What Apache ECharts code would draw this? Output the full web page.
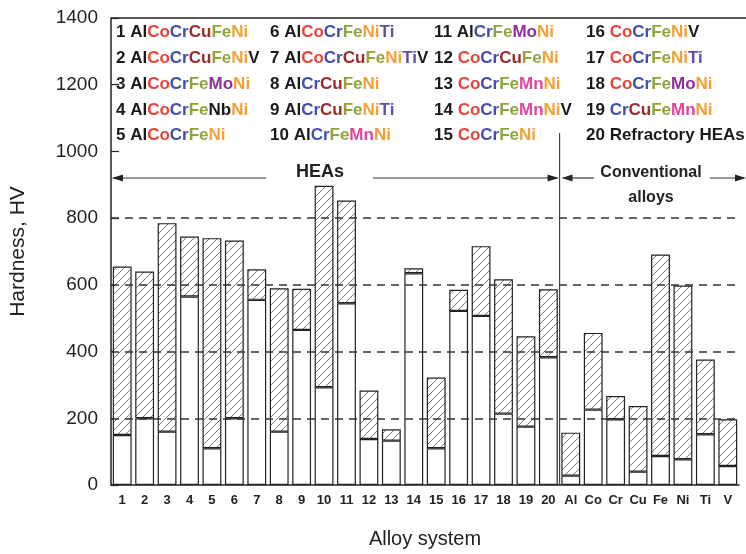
<!DOCTYPE html>
<html lang="en">
<head>
<meta charset="utf-8">
<title>Hardness of alloys</title>
<script src="https://cdn.jsdelivr.net/npm/echarts@6/dist/echarts.min.js"></script>
<style>
  html, body { margin: 0; padding: 0; background: #fff; }
  #chart { width: 746px; height: 554px; }
</style>
</head>
<body>
<div id="chart"></div>
<script>
// categories and hardness ranges (HV)
var categories = ['1','2','3','4','5','6','7','8','9','10','11','12','13','14','15','16','17','18','19','20',
                  'Al','Co','Cr','Cu','Fe','Ni','Ti','V'];
var minHV = [150, 200, 160, 565, 110, 200, 555, 160, 465, 293, 545, 138, 133, 635, 110, 522, 507, 214, 175, 383,
             28, 226, 197, 40, 87, 77, 152, 57];
var maxHV = [655, 640, 785, 745, 740, 733, 647, 590, 588, 897, 853, 283, 167, 650, 322, 585, 716, 617, 446, 587,
             157, 456, 267, 237, 691, 598, 376, 197];
var yTicks = [0, 200, 400, 600, 800, 1000, 1200, 1400];
var dashedLevels = [200, 400, 600, 800];

// legend of alloy compositions, element by element
var alloyNames = [
  ['Al','Co','Cr','Cu','Fe','Ni'],
  ['Al','Co','Cr','Cu','Fe','Ni','V'],
  ['Al','Co','Cr','Fe','Mo','Ni'],
  ['Al','Co','Cr','Fe','Nb','Ni'],
  ['Al','Co','Cr','Fe','Ni'],
  ['Al','Co','Cr','Fe','Ni','Ti'],
  ['Al','Co','Cr','Cu','Fe','Ni','Ti','V'],
  ['Al','Cr','Cu','Fe','Ni'],
  ['Al','Cr','Cu','Fe','Ni','Ti'],
  ['Al','Cr','Fe','Mn','Ni'],
  ['Al','Cr','Fe','Mo','Ni'],
  ['Co','Cr','Cu','Fe','Ni'],
  ['Co','Cr','Fe','Mn','Ni'],
  ['Co','Cr','Fe','Mn','Ni','V'],
  ['Co','Cr','Fe','Ni'],
  ['Co','Cr','Fe','Ni','V'],
  ['Co','Cr','Fe','Ni','Ti'],
  ['Co','Cr','Fe','Mo','Ni'],
  ['Cr','Cu','Fe','Mn','Ni'],
  ['Refractory HEAs']
];
var elementColor = {
  Al: '#1a1a1a', Co: '#e5453a', Cr: '#4150ad', Cu: '#9c2c2c', Fe: '#8fa53c', Ni: '#f4a036',
  Mo: '#8d2f9c', Nb: '#1a1a1a', Mn: '#e0449e', Ti: '#5b51a6', V: '#1a1a1a', num: '#1a1a1a'
};

var FONT = 'Liberation Sans';

// hatch pattern ////
function makeHatch() {
  var s = 8;
  var c = document.createElement('canvas');
  c.width = s; c.height = s;
  var g = c.getContext('2d');
  g.fillStyle = '#fff';
  g.fillRect(0, 0, s, s);
  g.strokeStyle = '#666';
  g.lineWidth = 0.9;
  g.beginPath();
  g.moveTo(0, s); g.lineTo(s, 0);
  g.moveTo(-1, 1); g.lineTo(1, -1);
  g.moveTo(s - 1, s + 1); g.lineTo(s + 1, s - 1);
  g.stroke();
  return c;
}

var hatchData = maxHV.map(function (v, i) { return v - minHV[i]; });

var chart = echarts.init(document.getElementById('chart'));
var option = {
  animation: false,
  backgroundColor: '#fff',
  grid: { left: 105, right: 7, top: 18, bottom: 61 },
  xAxis: {
    type: 'category',
    data: categories,
    name: 'Alloy system',
    nameLocation: 'middle',
    nameGap: 44,
    nameTextStyle: { fontFamily: FONT, fontSize: 20, color: '#222' },
    axisLine: { lineStyle: { color: '#222', width: 1.5 } },
    axisTick: { show: false },
    axisLabel: { interval: 0, margin: 9, fontFamily: FONT, fontWeight: 'bold', fontSize: 13, color: '#222' }
  },
  yAxis: {
    type: 'value',
    min: yTicks[0],
    max: yTicks[yTicks.length - 1],
    interval: 200,
    name: 'Hardness, HV',
    nameLocation: 'middle',
    nameGap: 82,
    nameTextStyle: { fontFamily: FONT, fontSize: 21, color: '#222' },
    axisLine: { show: true, lineStyle: { color: '#222', width: 1.5 } },
    axisTick: { show: true, inside: true, length: 8, lineStyle: { color: '#222', width: 1.2 } },
    axisLabel: { margin: 13, fontFamily: FONT, fontSize: 19, color: '#222', formatter: function (v) { return String(v); } },
    splitLine: { show: false }
  },
  series: [
    {
      name: 'base',
      type: 'bar',
      stack: 'hv',
      barCategoryGap: '16%',
      data: minHV,
      itemStyle: { color: '#fff', borderColor: '#222', borderWidth: 1.2 }
    },
    {
      name: 'range',
      type: 'bar',
      stack: 'hv',
      barCategoryGap: '16%',
      data: hatchData,
      itemStyle: { color: { image: makeHatch(), repeat: 'repeat' }, borderColor: '#222', borderWidth: 1.2 },
      markLine: {
        silent: true,
        symbol: 'none',
        label: { show: false },
        lineStyle: { color: '#333', type: [8, 6], width: 1.6 },
        data: dashedLevels.map(function (v) { return { yAxis: v }; })
      }
    }
  ]
};
chart.setOption(option);

// annotations: legend, separator, arrows
var x0 = chart.convertToPixel({ xAxisIndex: 0 }, 0);
var x1 = chart.convertToPixel({ xAxisIndex: 0 }, 1);
var band = x1 - x0;
var sepX = chart.convertToPixel({ xAxisIndex: 0 }, 19) + band / 2;
var yTop = chart.convertToPixel({ yAxisIndex: 0 }, 1400);
var yBot = chart.convertToPixel({ yAxisIndex: 0 }, 0);
var leftX = x0 - band / 2;
var arrowY = 178;

var rich = {};
Object.keys(elementColor).forEach(function (k) {
  rich[k] = { fill: elementColor[k], fontFamily: FONT, fontWeight: 'bold', fontSize: 17 };
});

var colX = [116, 270, 434, 586];
var rowY = [32, 58, 84, 110, 135];
var graphics = [];
alloyNames.forEach(function (els, i) {
  var txt = '{num|' + (i + 1) + ' }';
  els.forEach(function (e) {
    txt += elementColor[e] ? '{' + e + '|' + e + '}' : '{num|' + e + '}';
  });
  graphics.push({
    type: 'text',
    x: colX[Math.floor(i / 5)],
    y: rowY[i % 5],
    style: { text: txt, rich: rich, verticalAlign: 'middle', fontFamily: FONT, fontWeight: 'bold', fontSize: 17 }
  });
});

function hLine(xa, xb, y) {
  return { type: 'line', shape: { x1: xa, y1: y, x2: xb, y2: y }, style: { stroke: '#333', lineWidth: 1.2 } };
}
function arrowHead(tipX, y, dir) {
  return {
    type: 'polygon',
    shape: { points: [[tipX, y], [tipX - dir * 11, y - 3.5], [tipX - dir * 11, y + 3.5]] },
    style: { fill: '#222' }
  };
}
function label(text, x, y, size) {
  return {
    type: 'text', x: x, y: y,
    style: { text: text, align: 'center', verticalAlign: 'middle', fontFamily: FONT, fontWeight: 'bold', fontSize: size, fill: '#222' }
  };
}

// top frame line
graphics.push({ type: 'line', shape: { x1: leftX, y1: yTop, x2: 746, y2: yTop }, style: { stroke: '#222', lineWidth: 1.5 } });
// HEAs / conventional separator
graphics.push({ type: 'line', shape: { x1: sepX, y1: 133, x2: sepX, y2: yBot }, style: { stroke: '#444', lineWidth: 1.2 } });

graphics.push(hLine(leftX + 2, 266, arrowY));
graphics.push(arrowHead(leftX + 1, arrowY, -1));
graphics.push(label('HEAs', 320, arrowY - 6, 18));
graphics.push(hLine(373, sepX - 2, arrowY));
graphics.push(arrowHead(sepX - 1, arrowY, 1));

graphics.push(arrowHead(sepX + 2, arrowY, -1));
graphics.push(hLine(sepX + 4, 594, arrowY));
graphics.push(label('Conventional', 651, arrowY - 5, 16));
graphics.push(label('alloys', 651, arrowY + 20, 16));
graphics.push(hLine(710, 744, arrowY));
graphics.push(arrowHead(746, arrowY, 1));

chart.setOption({ graphic: graphics });
</script>
</body>
</html>
